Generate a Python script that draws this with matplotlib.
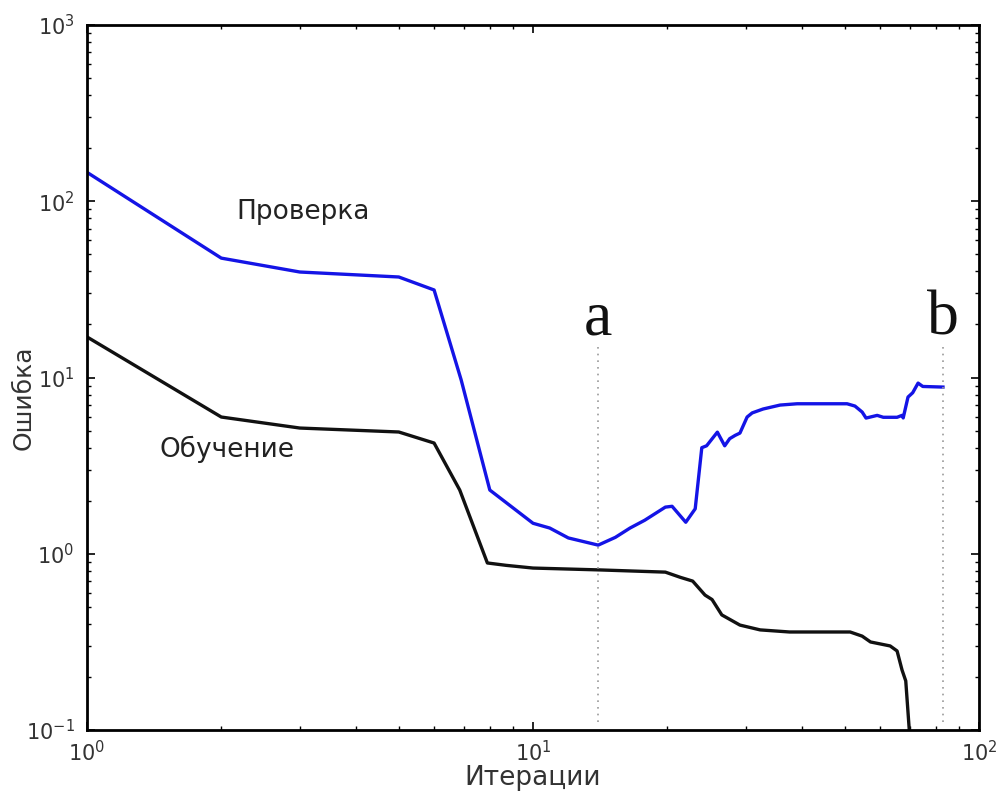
import matplotlib.pyplot as plt

# validation (blue) curve
val_x = [1, 2, 3, 5, 6, 6.9, 8, 10, 10.9, 12, 14, 15.3, 16.5, 17.8, 19.8, 20.5, 22, 23.1, 23.9,
         24.5, 25.9, 26.9, 27.6, 28.4, 29.1, 30.2, 31, 32.8, 35.8, 39.1, 50.6, 52.7, 54.7, 55.8,
         59.1, 61, 65.5, 67.2, 67.6, 69.3, 71, 73, 74.8, 83]
val_y = [146, 47.6, 39.7, 37.2, 31.4, 9.7, 2.3, 1.49, 1.40, 1.23, 1.12, 1.24, 1.40, 1.55, 1.84, 1.86,
         1.51, 1.80, 4.0, 4.1, 4.9, 4.1, 4.5, 4.7, 4.84, 5.97, 6.3, 6.63, 6.98, 7.1, 7.1, 6.89, 6.37,
         5.89, 6.1, 5.95, 5.95, 6.1, 5.9, 7.75, 8.2, 9.3, 8.9, 8.83]

# training (black) curve
train_x = [1, 2, 3, 5, 6, 6.85, 7.9, 8.7, 10, 14.1, 19.8, 21.4, 22.8, 24.3, 25.2, 26.5, 29.1, 32.3,
           37.6, 51.4, 54.7, 57.1, 63.2, 65.5, 67.2, 68.5, 69.7, 70.2]
train_y = [17.0, 5.97, 5.17, 4.91, 4.25, 2.3, 0.887, 0.86, 0.83, 0.81, 0.787, 0.735, 0.70, 0.583,
           0.55, 0.45, 0.394, 0.37, 0.36, 0.36, 0.341, 0.316, 0.30, 0.281, 0.219, 0.19, 0.103, 0.08]

marker_x = [14.0, 83.0]
marker_names = ['a', 'b']

fig = plt.figure(figsize=(9.98, 7.93), dpi=100)
ax = fig.add_axes([0.0872, 0.0794, 0.8938, 0.889])

ax.plot(val_x, val_y, color='#1414e6', lw=2.4, solid_joinstyle='round')
ax.plot(train_x, train_y, color='#111111', lw=2.4, solid_joinstyle='round')

for mx, name in zip(marker_x, marker_names):
    ax.plot([mx, mx], [0.111, 15.3], color='#999999', lw=1.2, linestyle=(0, (1, 3)))
    ax.text(mx, 17.5, name, family='Liberation Serif', fontsize=46,
            ha='center', va='baseline', color='#111111')

ax.text(3.05, 87, 'Проверка', fontsize=19, ha='center', va='center', color='#222222')
ax.text(2.06, 3.9, 'Обучение', fontsize=19, ha='center', va='center', color='#222222')

ax.set_xscale('log')
ax.set_yscale('log')
ax.set_xlim(1, 100)
ax.set_ylim(0.1, 1000)

ax.set_xlabel('Итерации', fontsize=19, color='#333333', labelpad=0)
ax.set_ylabel('Ошибка', fontsize=18, color='#333333')
ax.yaxis.set_label_coords(-0.058, 0.471)

ax.tick_params(which='both', direction='in', top=True, right=True, labelsize=15,
               labelcolor='#333333')
ax.tick_params(axis='x', which='major', pad=7)
ax.tick_params(axis='y', which='major', pad=9)
ax.tick_params(which='major', length=6, width=1.2)
ax.tick_params(which='minor', length=3, width=1)
for s in ax.spines.values():
    s.set_linewidth(2)

fig.savefig('out.png', dpi=100)
